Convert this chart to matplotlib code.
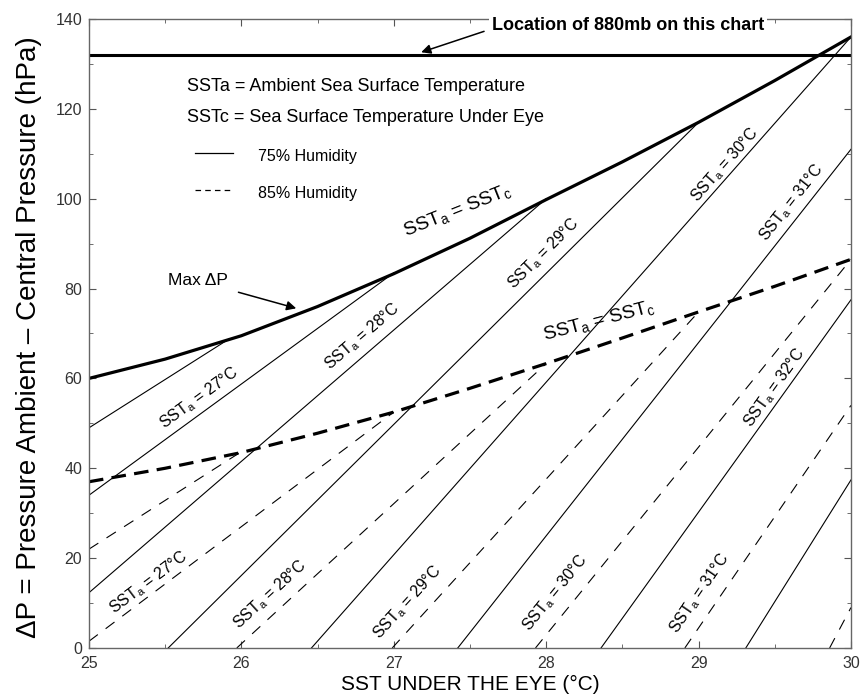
import matplotlib.pyplot as plt
import numpy as np

plt.rcParams['font.family'] = ['Liberation Sans', 'DejaVu Sans']
plt.rcParams['mathtext.fontset'] = 'custom'
plt.rcParams['mathtext.rm'] = 'Liberation Sans'
plt.rcParams['lines.scale_dashes'] = False

# SSTa = SSTc curves (max delta P) vs SST under the eye
sst_eye = [25, 25.5, 26, 26.5, 27, 27.5, 28, 28.5, 29, 29.5, 30]
max_dp_75 = [60, 64.3, 69.5, 76, 83.3, 91.2, 99.8, 108.2, 117, 126.3, 136]
max_dp_85 = [37, 40, 43.5, 47.8, 52.5, 57.8, 63.3, 69, 74.8, 80.5, 86.5]

# lines of constant ambient SST, 75% humidity (start and end points)
sst_a_75 = [26, 27, 28, 29, 30, 31, 32, 33]
x0_75 = [25, 25, 25, 25.52, 26.46, 27.42, 28.36, 29.31]
dp0_75 = [49, 34, 12.3, 0, 0, 0, 0, 0]
x1_75 = [25.92, 27, 28, 29, 30, 30, 30, 30]
dp1_75 = [68.8, 83.5, 100, 117, 136, 111, 77.5, 37.4]

# same for 85% humidity
sst_a_85 = [26, 27, 28, 29, 30, 31, 32]
x0_85 = [25, 25, 25.97, 26.99, 27.93, 28.91, 29.86]
dp0_85 = [22, 1.5, 0, 0, 0, 0, 0]
x1_85 = [26, 27, 28, 29, 30, 30, 30]
dp1_85 = [43.7, 52.5, 63.3, 74.8, 86.5, 54, 9]

dp_880mb = 132

# where the SSTa labels sit (data coords)
labels_75 = {27: (25.72, 55.7), 28: (26.79, 69.3), 29: (27.98, 87.8),
             30: (29.17, 107.6), 31: (29.61, 99.1), 32: (29.5, 57.9)}
labels_85 = {27: (25.39, 14.5), 28: (26.19, 11.8), 29: (27.09, 10.2),
             30: (28.06, 12.2), 31: (29.01, 12.2)}

fig = plt.figure(figsize=(8.62, 6.96), dpi=100)
ax = fig.add_axes([0.1032, 0.069, 0.884, 0.9037])
ax.set_xlim(25, 30)
ax.set_ylim(0, 140)

def screen_angle(xa, ya, xb, yb):
    p = ax.transData.transform([(xa, ya), (xb, yb)])
    return np.degrees(np.arctan2(p[1, 1] - p[0, 1], p[1, 0] - p[0, 0]))

# thin lines
for t, xa, ya, xb, yb in zip(sst_a_75, x0_75, dp0_75, x1_75, dp1_75):
    ax.plot([xa, xb], [ya, yb], color='k', lw=0.8)
    if t in labels_75:
        lx, ly = labels_75[t]
        ax.text(lx, ly, r'SST$_{\mathrm{a}}$ = %d°C' % t, fontsize=11.5,
                rotation=screen_angle(xa, ya, xb, yb), ha='center', va='center')

for t, xa, ya, xb, yb in zip(sst_a_85, x0_85, dp0_85, x1_85, dp1_85):
    ax.plot([xa, xb], [ya, yb], color='k', lw=0.8, dashes=(8, 7))
    if t in labels_85:
        lx, ly = labels_85[t]
        ax.text(lx, ly, r'SST$_{\mathrm{a}}$ = %d°C' % t, fontsize=11.5,
                rotation=screen_angle(xa, ya, xb, yb), ha='center', va='center')

# thick curves
ax.plot(sst_eye, max_dp_75, color='k', lw=2.3)
ax.plot(sst_eye, max_dp_85, color='k', lw=2.3, dashes=(10.5, 6))

for lx, ly, curve in [(27.42, 97.1, max_dp_75), (28.35, 72.6, max_dp_85)]:
    y_a = np.interp(lx - 0.3, sst_eye, curve)
    y_b = np.interp(lx + 0.3, sst_eye, curve)
    ax.text(lx, ly, r'SST$_{\mathrm{a}}$ = SST$_{\mathrm{c}}$', fontsize=14,
            rotation=screen_angle(lx - 0.3, y_a, lx + 0.3, y_b) - 4,
            ha='center', va='center')

ax.axhline(dp_880mb, color='k', lw=2.2)

# legend block
ax.text(0.129, 0.892, 'SSTa = Ambient Sea Surface Temperature', fontsize=13,
        transform=ax.transAxes, va='center')
ax.text(0.129, 0.843, 'SSTc = Sea Surface Temperature Under Eye', fontsize=13,
        transform=ax.transAxes, va='center')
ax.plot([0.139, 0.189], [0.787, 0.787], color='k', lw=0.9, transform=ax.transAxes)
ax.plot([0.139, 0.189], [0.728, 0.728], color='k', lw=0.9, dashes=(4, 3),
        transform=ax.transAxes)
ax.text(0.222, 0.781, '75% Humidity', fontsize=11.5, transform=ax.transAxes, va='center')
ax.text(0.222, 0.723, '85% Humidity', fontsize=11.5, transform=ax.transAxes, va='center')

ax.annotate('Location of 880mb on this chart', xy=(27.18, dp_880mb + 0.6),
            xytext=(0.529, 0.990), textcoords='axes fraction',
            fontsize=13, fontweight='bold', ha='left', va='center',
            bbox=dict(facecolor='white', edgecolor='none', pad=2),
            arrowprops=dict(arrowstyle='-|>', color='k', lw=1.1,
                            mutation_scale=14, shrinkA=4, shrinkB=0,
                            relpos=(0, 0.3)))

ax.annotate('Max ΔP', xy=(26.36, 75.6), xytext=(25.91, 81.7),
            fontsize=12.5, ha='right', va='center',
            arrowprops=dict(arrowstyle='-|>', color='k', lw=1.1,
                            mutation_scale=14, shrinkA=6, shrinkB=0))

# axes styling
ax.set_xticks(range(25, 31))
ax.set_xticks(np.arange(25, 30.01, 0.5), minor=True)
ax.set_yticks(range(0, 141, 20))
ax.set_yticks(range(0, 141, 10), minor=True)
ax.tick_params(which='both', direction='in', top=True, right=True,
               color='#555', labelsize=11.5, labelcolor='#333')
ax.tick_params(which='major', length=5)
ax.tick_params(which='minor', length=3)
ax.tick_params(axis='x', pad=6)
ax.tick_params(axis='y', pad=5)
for s in ax.spines.values():
    s.set_color('#666')
    s.set_linewidth(1)

ax.set_xlabel('SST UNDER THE EYE (°C)', fontsize=15)
ax.xaxis.set_label_coords(0.5, -0.043)
ax.set_ylabel('ΔP = Pressure Ambient – Central Pressure (hPa)', fontsize=20)
ax.yaxis.set_label_coords(-0.062, 0.494)

fig.savefig('out.png', dpi=100)
